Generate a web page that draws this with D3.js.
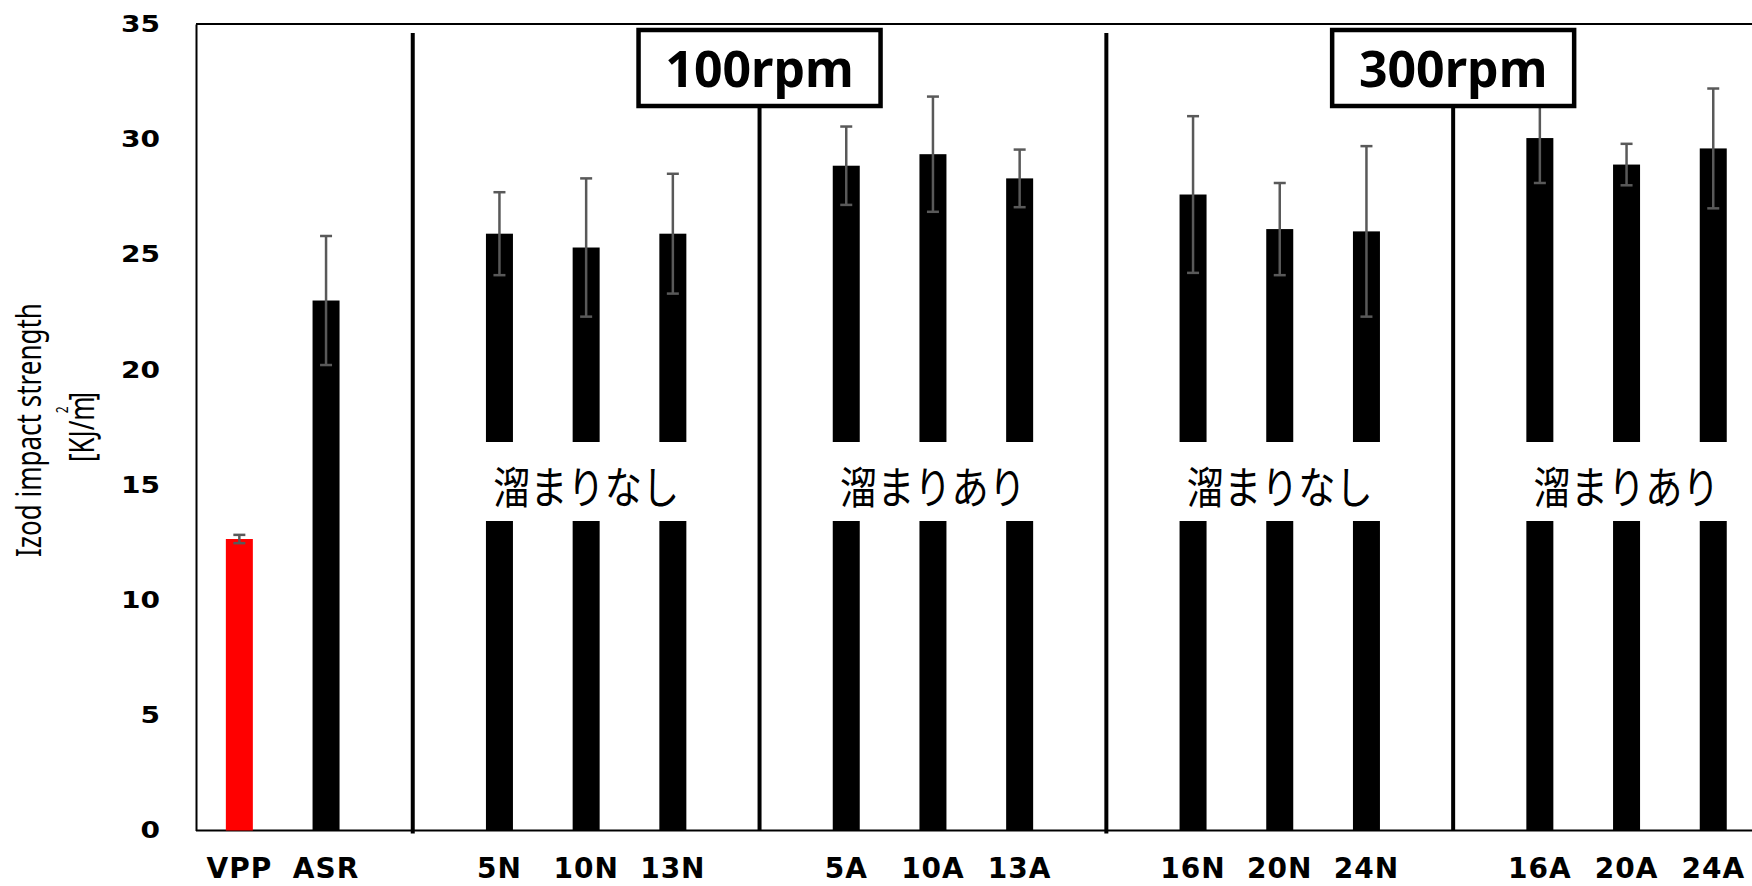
<!DOCTYPE html>
<html>
<head>
<meta charset="utf-8">
<script src="https://cdn.jsdelivr.net/npm/d3@7/dist/d3.min.js"></script>
<style>
  body { margin: 0; background: #fff; }
  svg { display: block; }
</style>
</head>
<body>
<div id="chart"></div>
<script>
// sample groups, left to right
const groups = [
    ['VPP', 'ASR'],
    ['5N', '10N', '13N'],
    ['5A', '10A', '13A'],
    ['16N', '20N', '24N'],
    ['16A', '20A', '24A']
];
const categories = groups.flat();
// Izod impact strength [KJ/m2], mean and error
const values = [12.65, 23.0, 25.9, 25.3, 25.9, 28.85, 29.35, 28.3, 27.6, 26.1, 26.0, 30.05, 28.9, 29.6];
const errors = [0.18, 2.8, 1.8, 3.0, 2.6, 1.7, 2.5, 1.25, 3.4, 2.0, 3.7, 1.95, 0.9, 2.6];
const groupNotes = [null, '溜まりなし', '溜まりあり', '溜まりなし', '溜まりあり'];
const speedLabels = ['100rpm', '300rpm'];
const yTicks = [0, 5, 10, 15, 20, 25, 30, 35];
const highlight = 'VPP';

const width = 1752, height = 886;
const plotLeft = 196, plotTop = 24, plotBottom = 830.5;
const step = 86.7;

// band domain with an empty slot between groups
let slots = [];
groups.forEach((g, i) => {
    if(i) slots.push('gap' + i);
    slots = slots.concat(g);
});

const x = d3.scaleBand()
    .domain(slots)
    .range([plotLeft, plotLeft + slots.length * step]);
const y = d3.scaleLinear()
    .domain([0, 35])
    .range([plotBottom, plotTop]);

const svg = d3.select('#chart').append('svg')
    .attr('width', width)
    .attr('height', height);

const mid = k => x(k) + x.bandwidth() / 2;
const barW = 27;

// frame lines
svg.append('line')
    .attr('x1', plotLeft).attr('x2', width)
    .attr('y1', plotTop).attr('y2', plotTop)
    .attr('stroke', '#000').attr('stroke-width', 2);
svg.append('line')
    .attr('x1', plotLeft).attr('x2', width)
    .attr('y1', plotBottom).attr('y2', plotBottom)
    .attr('stroke', '#000').attr('stroke-width', 2);

// y axis
const yAxis = svg.append('g')
    .attr('transform', `translate(${plotLeft},0)`)
    .call(d3.axisLeft(y).tickValues(yTicks).tickSize(0).tickSizeOuter(0).tickPadding(36));
yAxis.select('.domain').attr('stroke', '#000').attr('stroke-width', 2);
yAxis.selectAll('text')
    .attr('font-family', 'DejaVu Sans')
    .attr('font-weight', 'bold')
    .attr('font-size', 23)
    .attr('fill', '#000')
    .attr('x', -36 / 1.22)
    .attr('transform', 'scale(1.22,1)');

// x axis labels
const xAxis = svg.append('g')
    .attr('transform', `translate(0,${plotBottom})`)
    .call(d3.axisBottom(x).tickValues(categories).tickSize(0).tickPadding(28));
xAxis.select('.domain').remove();
xAxis.selectAll('text')
    .attr('font-family', 'DejaVu Sans')
    .attr('font-weight', 'bold')
    .attr('font-size', 28)
    .attr('letter-spacing', 1)
    .attr('fill', '#000');

// y axis title
svg.append('text')
    .attr('transform', 'translate(41,430) scale(1.35,1) rotate(-90)')
    .attr('text-anchor', 'middle')
    .attr('font-family', 'Noto Sans')
    .attr('font-size', 26)
    .text('Izod impact strength');
const unit = svg.append('text')
    .attr('transform', 'translate(94,427) scale(1.35,1) rotate(-90)')
    .attr('text-anchor', 'middle')
    .attr('font-family', 'Noto Sans')
    .attr('font-size', 26);
unit.append('tspan').text('[KJ/m');
unit.append('tspan').attr('font-size', 12).attr('dx', -17).attr('dy', -19).text('2');
unit.append('tspan').attr('dx', 6).attr('dy', 19).text(']');

// bars
const data = categories.map((c, i) => ({ name: c, value: values[i], err: errors[i] }));
svg.append('g').selectAll('rect')
    .data(data)
    .join('rect')
    .attr('x', d => mid(d.name) - barW / 2)
    .attr('width', barW)
    .attr('y', d => y(d.value))
    .attr('height', d => y(0) - y(d.value))
    .attr('fill', d => d.name === highlight ? '#ff0000' : '#000');

// error bars
const eb = svg.append('g')
    .attr('stroke', '#595959')
    .attr('stroke-width', 2.5);
data.forEach(d => {
    let cx = mid(d.name);
    eb.append('line')
        .attr('x1', cx).attr('x2', cx)
        .attr('y1', y(d.value - d.err)).attr('y2', y(d.value + d.err));
    [d.value - d.err, d.value + d.err].forEach(v => {
        eb.append('line')
            .attr('x1', cx - 6).attr('x2', cx + 6)
            .attr('y1', y(v)).attr('y2', y(v));
    });
});

// group notes on white panels
groups.forEach((g, i) => {
    if(!groupNotes[i]) return;
    let cx = mid(g[1]);
    let panel = svg.append('rect').attr('fill', '#fff');
    let t = svg.append('text')
        .attr('transform', `translate(${cx},485) scale(0.93,1.1)`)
        .attr('text-anchor', 'middle')
        .attr('dominant-baseline', 'central')
        .attr('font-family', 'Noto Sans CJK JP')
        .attr('font-size', 40)
        .text(groupNotes[i]);
    let w = t.node().getComputedTextLength() * 0.93;
    panel.attr('x', cx - w / 2 - 18).attr('width', w + 36)
        .attr('y', 442).attr('height', 79);
});

// separators between groups, speed boxes on every second one
let speedIdx = 0;
groups.forEach((g, i) => {
    if(!i) return;
    let sx = mid('gap' + i);
    let boxed = i % 2 === 0;
    svg.append('line')
        .attr('x1', sx).attr('x2', sx)
        .attr('y1', boxed ? 108 : 33)
        .attr('y2', boxed ? plotBottom : plotBottom + 3)
        .attr('stroke', '#000').attr('stroke-width', 4);
    if(boxed) {
        svg.append('rect')
            .attr('x', sx - 121).attr('y', 30)
            .attr('width', 242).attr('height', 76)
            .attr('fill', '#fff')
            .attr('stroke', '#000').attr('stroke-width', 4.5);
        svg.append('text')
            .attr('x', sx).attr('y', 87)
            .attr('text-anchor', 'middle')
            .attr('font-family', 'Noto Sans')
            .attr('font-weight', 'bold')
            .attr('font-size', 50)
            .text(speedLabels[speedIdx++]);
    }
});
</script>
</body>
</html>
